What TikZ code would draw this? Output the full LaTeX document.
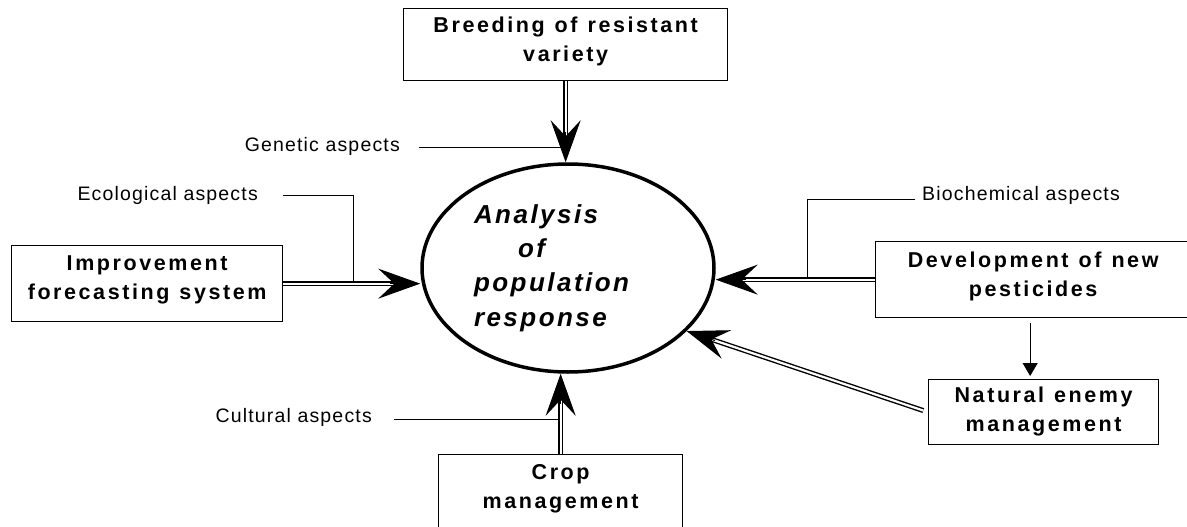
\documentclass[tikz,border=0pt]{standalone}
\usepackage{fontspec}
\setmainfont{Liberation Sans}
\newfontfamily\lblfont[LetterSpace=6]{Liberation Sans}
\newfontfamily\boxfont[LetterSpace=12]{Liberation Sans}
\newfontfamily\anafont[LetterSpace=9.5]{Liberation Sans}
\newcommand{\wsp}{\hspace{10pt}}
\usetikzlibrary{arrows.meta,calc,shapes.geometric}
\begin{document}
\begin{tikzpicture}[x=1pt,y=-1pt,
 box/.style={draw, line width=1.3pt, anchor=north west, inner sep=0pt, align=center,
   font=\boxfont\bfseries\fontsize{21.5}{29}\selectfont},
 lbl/.style={inner sep=0pt, font=\lblfont\fontsize{19.5}{23}\selectfont},
 thinline/.style={line width=1pt},
 dbl/.style={draw, double, double distance=2.2pt, line width=1.4pt},
 bigtip/.style={line width=1pt, -{Stealth[length=42pt,width=30pt,inset=16pt]}},
 smalltip/.style={line width=1pt, -{Triangle[length=13pt,width=15pt]}},
]
\useasboundingbox (0,0) rectangle (1187,527);
\clip (0,0) rectangle (1187,527);
\fill[white] (0,0) rectangle (1187,527);

% central ellipse
\node[draw, ellipse, line width=3.5pt, minimum width=292pt, minimum height=208pt,
  inner sep=0pt, text width=188pt, align=left,
  font=\anafont\bfseries\itshape\fontsize{26}{34.3}\selectfont] (ana) at (568,268)
  {Analysis\\\hspace*{44pt}of\\population\\response};

% boxes
\node[box, text width=324pt, text height=24pt, text depth=48pt] (breed) at (403,8)
  {Breeding\wsp of\wsp resistant\hspace*{10pt}\\variety};
\node[box, text width=271pt, text height=25pt, text depth=51pt] (imp) at (11,245)
  {Improvement\hspace*{18pt}\\forecasting\wsp system\hspace*{18pt}};
\node[box, text width=315pt, text height=26pt, text depth=50pt] (dev) at (875,241)
  {Development\wsp of\wsp new\hspace*{19pt}\\pesticides\hspace*{19pt}};
\node[box, text width=230pt, text height=23pt, text depth=42pt] (nat) at (928,379)
  {Natural\wsp enemy\\management};
\node[box, text width=244pt, text height=25pt, text depth=80pt] (crop) at (438,454)
  {Crop\\management};

% aspect labels
\node[lbl, anchor=base east] (gen) at (400,151) {Genetic aspects};
\node[lbl, anchor=base east] (eco) at (258,200.7) {Ecological aspects};
\node[lbl, anchor=base west] (bio) at (922,200.7) {Biochemical aspects};
\node[lbl, anchor=base east] (cul) at (372,422.7) {Cultural aspects};

% label leader lines
\coordinate (genS) at (419,147);
\draw[thinline] (genS) -- (genS -| breed.south);
\coordinate (ecoS) at (283,195);
\coordinate (ecoT) at ($(imp.east)+(70,-2.6)$);
\draw[thinline] (ecoS) -| (ecoT);
\coordinate (bioS) at (915,199);
\coordinate (bioT) at ($(dev.west)+(-68,-2.6)$);
\draw[thinline] (bioS) -| (bioT);
\coordinate (culS) at (394,419);
\draw[thinline] (culS) -- (culS -| crop.north);

% double arrows into the ellipse
\coordinate (tTop) at (breed.south |- ana.north);
\draw[dbl, shorten >=22pt] (breed.south) -- (tTop);
\draw[bigtip] ($(tTop)+(0,-30)$) -- (tTop);

\coordinate (tLeft) at (imp.east -| ana.west);
\draw[dbl, shorten >=22pt] (imp.east) -- (tLeft);
\draw[bigtip] ($(tLeft)+(-30,0)$) -- (tLeft);

\coordinate (tRight) at (dev.west -| ana.east);
\draw[dbl, shorten >=22pt] (dev.west) -- (tRight);
\draw[bigtip] ($(tRight)+(30,0)$) -- (tRight);

\coordinate (tBot) at (crop.north |- ana.south);
\draw[dbl, shorten >=22pt] (crop.north) -- (tBot);
\draw[bigtip] ($(tBot)+(0,30)$) -- (tBot);

\coordinate (tDiag) at (ana.-28);
\draw[dbl, shorten >=22pt, shorten <=5pt] (nat.west) -- (tDiag);
\draw[bigtip] ($(tDiag)!30pt!(nat.west)$) -- (tDiag);

% development -> natural enemy
\draw[smalltip, shorten <=5pt, shorten >=3pt] ([xshift=-3pt]dev.south) -- ([xshift=-3pt]dev.south |- nat.north);
\end{tikzpicture}
\end{document}
